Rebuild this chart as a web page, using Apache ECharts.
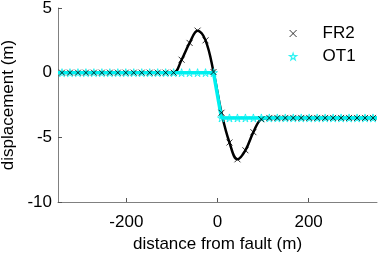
<!DOCTYPE html>
<html>
<head>
<meta charset="utf-8">
<script src="https://cdn.jsdelivr.net/npm/echarts@6/dist/echarts.min.js"></script>
<style>
  html, body { margin: 0; padding: 0; background: #fff; }
  #chart { width: 379px; height: 253px; }
</style>
</head>
<body>
<div id="chart"></div>
<script>
// distance from fault (m) at the marker positions, every 17.5 m
const distances = [
  -341.25, -323.75, -306.25, -288.75, -271.25, -253.75, -236.25, -218.75, -201.25, -183.75,
  -166.25, -148.75, -131.25, -113.75, -96.25, -78.75, -61.25, -43.75, -26.25, -8.75,
  8.75, 26.25, 43.75, 61.25, 78.75, 96.25, 113.75, 131.25, 148.75, 166.25,
  183.75, 201.25, 218.75, 236.25, 253.75, 271.25, 288.75, 306.25, 323.75, 341.25
]
// FR2 displacement (m)
const fr2 = [
  0, 0, 0, 0, 0, 0, 0, 0, 0, 0,
  0, 0, 0, 0, 0, 1.0, 2.3, 3.25, 2.5, 0.05,
  -3.1, -5.4, -6.7, -6.0, -4.6, -3.6, -3.5, -3.5, -3.5, -3.5,
  -3.5, -3.5, -3.5, -3.5, -3.5, -3.5, -3.5, -3.5, -3.5, -3.5
]
// OT1 displacement (m)
const ot1 = [
  0, 0, 0, 0, 0, 0, 0, 0, 0, 0,
  0, 0, 0, 0, 0, 0, 0, 0, 0, 0,
  -3.5, -3.5, -3.5, -3.5, -3.5, -3.5, -3.5, -3.5, -3.5, -3.5,
  -3.5, -3.5, -3.5, -3.5, -3.5, -3.5, -3.5, -3.5, -3.5, -3.5
]
// both profiles run on to the plot edges
const edgeDist = [-350, 350]
const fr2Edge = [0, -3.5]
const ot1Edge = [0, -3.5]

const xTicks = [-200, 0, 200]
const yTicks = [-10, -5, 0, 5]

const FONT = 'Liberation Sans, Arial, sans-serif'
const AXIS_GRAY = '#808080'
const CYAN = '#00f0f0'
const X_PATH = 'path://M0,0L10,10M10,0L0,10'
const STAR_PATH = 'path://M50,2L61,36L97,36L68,57L79,92L50,71L21,92L32,57L3,36L39,36Z'

const pts = (ys) => distances.map((d, i) => [d, ys[i]])
const withEdges = (ys, edge) => [[edgeDist[0], edge[0]], ...pts(ys), [edgeDist[1], edge[1]]]

const chart = echarts.init(document.getElementById('chart'))
chart.setOption({
  animation: false,
  textStyle: { fontFamily: FONT },
  grid: { left: 58, right: 2, top: 8, bottom: 51, outerBoundsMode: 'none', containLabel: false },
  legend: {
    orient: 'vertical',
    left: 284,
    top: 20,
    itemGap: 6,
    itemWidth: 7,
    itemHeight: 7,
    textStyle: { fontSize: 17, color: '#000', padding: [0, 0, 0, 21] },
    data: [
      { name: 'FR2', itemStyle: { color: 'rgba(0,0,0,0)', borderColor: '#000', borderWidth: 1 } },
      { name: 'OT1', itemStyle: { color: 'rgba(0,0,0,0)', borderColor: CYAN, borderWidth: 1.2 } },
    ],
  },
  xAxis: {
    type: 'value',
    min: -350,
    max: 350,
    name: 'distance from fault (m)',
    nameLocation: 'middle',
    nameGap: 33,
    nameTextStyle: { fontSize: 17, color: '#000' },
    axisLine: { show: true, onZero: false, lineStyle: { color: AXIS_GRAY, width: 1 } },
    axisTick: { show: true, inside: true, length: 4, customValues: xTicks, lineStyle: { color: '#555' } },
    axisLabel: { customValues: xTicks, fontSize: 17, color: '#000', margin: 12 },
    splitLine: { show: false },
  },
  yAxis: {
    type: 'value',
    min: -10,
    max: 5,
    interval: 5,
    name: 'displacement (m)',
    nameLocation: 'middle',
    nameGap: 39,
    nameTextStyle: { fontSize: 17, color: '#000' },
    axisLine: { show: true, onZero: false, lineStyle: { color: AXIS_GRAY, width: 1 } },
    axisTick: { show: true, inside: true, length: 4, customValues: yTicks, lineStyle: { color: '#555' } },
    axisLabel: { fontSize: 17, color: '#000', margin: 6 },
    splitLine: { show: false },
  },
  series: [
    {
      name: 'FR2 line',
      type: 'line',
      data: withEdges(fr2, fr2Edge),
      smooth: 0.4,
      showSymbol: false,
      lineStyle: { color: '#000', width: 2.5 },
      z: 1,
    },
    {
      name: 'OT1 line',
      type: 'line',
      data: withEdges(ot1, ot1Edge),
      showSymbol: false,
      lineStyle: { color: CYAN, width: 3.5 },
      z: 2,
    },
    {
      name: 'OT1',
      type: 'scatter',
      data: pts(ot1),
      symbol: STAR_PATH,
      symbolSize: 8,
      itemStyle: { color: 'rgba(0,0,0,0)', borderColor: CYAN, borderWidth: 1 },
      z: 3,
    },
    {
      name: 'FR2',
      type: 'scatter',
      data: pts(fr2),
      symbol: X_PATH,
      symbolSize: 6,
      itemStyle: { color: 'rgba(0,0,0,0)', borderColor: '#000', borderWidth: 1 },
      z: 4,
    },
  ],
})
</script>
</body>
</html>
